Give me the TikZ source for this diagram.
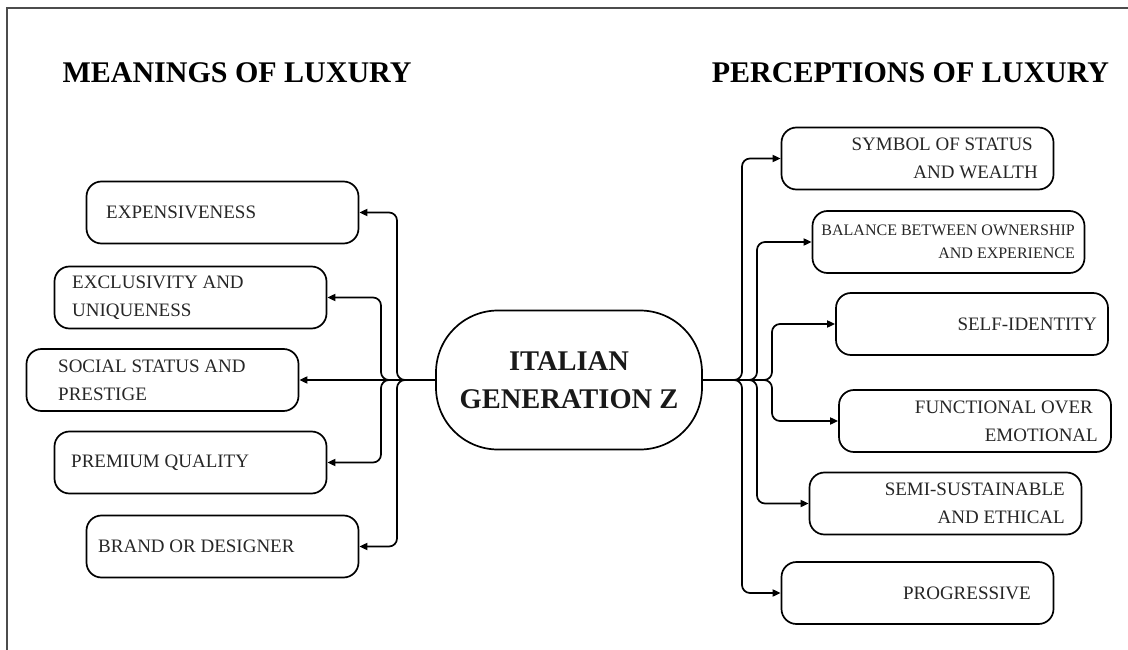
\documentclass[tikz,border=0pt]{standalone}
\usepackage{fontspec}
\setmainfont{Liberation Serif}
\usetikzlibrary{arrows.meta}
\begin{document}
\begin{tikzpicture}[x=1pt,y=-1pt,
  boxst/.style={draw=black, line width=1.7pt, rounded corners=15pt,
    minimum width=272pt, minimum height=62pt, inner sep=0pt},
  lbl/.style={inner sep=0pt, font=\fontsize{19pt}{28pt}\selectfont, text=black!85},
  lbls/.style={inner sep=0pt, font=\fontsize{16pt}{23pt}\selectfont, text=black!85},
  conn/.style={line width=1.7pt, rounded corners=8pt,
    -{Triangle[length=8pt,width=7pt]}},
  ttl/.style={inner sep=0pt, anchor=base, font=\bfseries\fontsize{30pt}{36pt}\selectfont}
]
\useasboundingbox (0,0) rectangle (1128,650);
% frame
\draw[line width=2pt, draw=black!70] (7,650) -- (7,8) -- (1128,8);

% titles
\node[ttl] (tl) at (237,83) {MEANINGS OF LUXURY};
\node[ttl] (tr) at (910.5,83) {PERCEPTIONS OF LUXURY};

% centre
\node[draw, line width=1.7pt, rounded corners=62pt, minimum width=266pt,
  minimum height=139pt, align=center, inner sep=0pt,
  font=\bfseries\fontsize{28.5pt}{38pt}\selectfont, text=black!90] (c) at (569,380)
  {ITALIAN\\GENERATION Z};

% left boxes
\node[boxst] (l1) at (222.5,212.5) {};
\node[boxst] (l2) at (190.5,297.5) {};
\node[boxst] (l3) at (162.5,380) {};
\node[boxst] (l4) at (190.5,462.5) {};
\node[boxst] (l5) at (222.5,546.5) {};
\node[lbl, anchor=west] (tl1) at (106,212.5) {EXPENSIVENESS};
\node[lbl, anchor=west, align=left] (tl2) at (72,297.5) {EXCLUSIVITY AND\\UNIQUENESS};
\node[lbl, anchor=west, align=left] (tl3) at (58,380) {SOCIAL STATUS AND\\PRESTIGE};
\node[lbl, anchor=west] (tl4) at (71,462.5) {PREMIUM QUALITY};
\node[lbl, anchor=west] (tl5) at (98,546.5) {BRAND OR DESIGNER};

% right boxes
\node[boxst] (r1) at (917.5,158.5) {};
\node[boxst] (r2) at (948.5,242) {};
\node[boxst] (r3) at (972,324) {};
\node[boxst] (r4) at (975,421) {};
\node[boxst] (r5) at (945.5,503.5) {};
\node[boxst] (r6) at (917.5,593) {};
\node[lbl, anchor=east, align=right] (tr1) at (1038,158.5) {SYMBOL OF STATUS\kern5pt\\AND WEALTH};
\node[lbls, anchor=east, align=right] (tr2) at (1075,242) {BALANCE BETWEEN OWNERSHIP\\AND EXPERIENCE};
\node[lbl, anchor=east] (tr3) at (1097,324) {SELF-IDENTITY};
\node[lbl, anchor=east, align=right] (tr4) at (1098,421) {FUNCTIONAL OVER\kern5pt\\EMOTIONAL};
\node[lbl, anchor=east, align=right] (tr5) at (1065,503.5) {SEMI-SUSTAINABLE\\AND ETHICAL};
\node[lbl, anchor=east] (tr6) at (1031,593) {PROGRESSIVE};

% left connectors
\draw[conn] (c.west) -- (397,380) |- (l1.east);
\draw[conn] (c.west) -- (397,380) |- (l5.east);
\draw[conn] (c.west) -- (381,380) |- (l2.east);
\draw[conn] (c.west) -- (381,380) |- (l4.east);
\draw[conn] (c.west) -- (l3.east);

% right connectors
\draw[conn] (c.east) -- (742,380) |- (r1.west);
\draw[conn] (c.east) -- (742,380) |- (r6.west);
\draw[conn] (c.east) -- (757,380) |- (r2.west);
\draw[conn] (c.east) -- (757,380) |- (r5.west);
\draw[conn] (c.east) -- (772,380) |- (r3.west);
\draw[conn] (c.east) -- (772,380) |- (r4.west);
\end{tikzpicture}
\end{document}
